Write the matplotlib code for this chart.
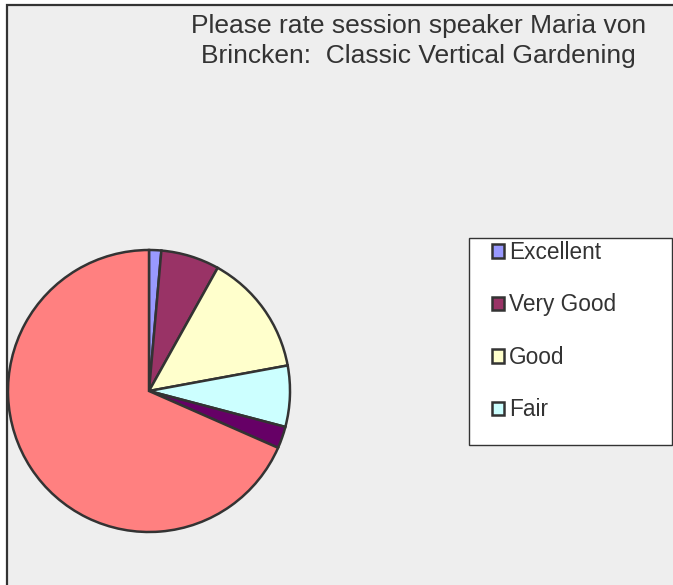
import matplotlib.pyplot as plt
from matplotlib.patches import Rectangle

title = "Please rate session speaker Maria von\nBrincken:  Classic Vertical Gardening"
labels = ['Excellent', 'Very Good', 'Good', 'Fair', 'Poor', 'No Answer']
shares = [1.4, 6.7, 14.0, 7.0, 2.5, 68.4]
colors = ['#9999FF', '#993366', '#FFFFCC', '#CCFFFF', '#660066', '#FF8080']
legend_count = 4  # the original legend only shows the first four

plt.rcParams['font.family'] = ['Liberation Sans', 'DejaVu Sans']

W, H = 673, 585
fig = plt.figure(figsize=(W / 100, H / 100), dpi=100)
fig.patch.set_facecolor('white')

ax = fig.add_axes([0, 0, 1, 1])
ax.set_facecolor('white')

# grey chart area with its dark frame (runs off the right/bottom edge)
ax.add_patch(Rectangle((7, -20), W + 20, H - 5 + 20, facecolor='#EEEEEE',
                       edgecolor='#333333', linewidth=1.6, zorder=0))

wedges, _ = ax.pie(shares, colors=colors, startangle=90, counterclock=False,
                   center=(149, H - 391), radius=141,
                   wedgeprops=dict(edgecolor='#333333', linewidth=1.8, zorder=2))
ax.set_xlim(0, W)
ax.set_ylim(0, H)
ax.set_aspect('equal')
ax.set_frame_on(False)
ax.set_xticks([])
ax.set_yticks([])

# legend box
ax.add_patch(Rectangle((469, H - 445), 203, 207, facecolor='white',
                       edgecolor='#333333', linewidth=1.0, zorder=3))
leg = ax.legend(wedges[:legend_count], labels[:legend_count],
                loc='upper left', bbox_to_anchor=(492 / W, (H - 241) / H),
                frameon=False, fontsize=16.3, labelspacing=1.30,
                handlelength=0.53, handleheight=0.53, handletextpad=0.22,
                borderpad=0, borderaxespad=0)
leg.set_zorder(4)
for t in leg.get_texts():
    t.set_color('#333333')

fig.text(418.5 / W, 1 - 41 / H, title, ha='center', va='center',
         fontsize=19, color='#333333', linespacing=1.32)

fig.savefig('out.png', dpi=100)
